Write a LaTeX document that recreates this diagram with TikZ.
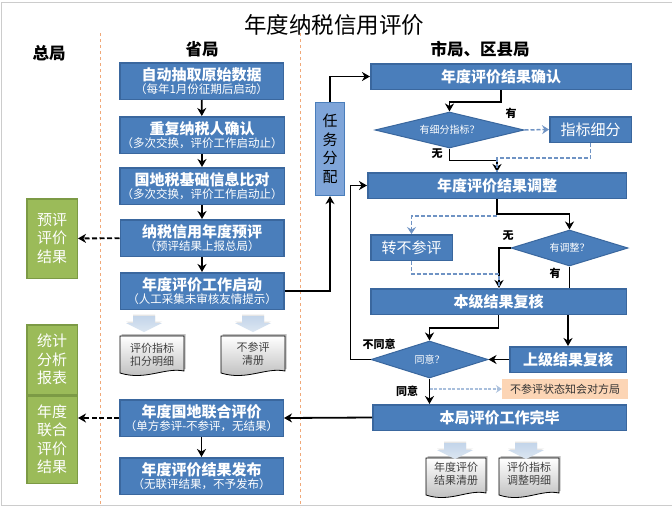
\documentclass[tikz,border=0pt]{standalone}
\usepackage{amsmath,amssymb,fontspec}
\setmainfont{Noto Sans CJK SC}
\usepackage{tikz}
\usetikzlibrary{arrows.meta,shapes.geometric,positioning}
\definecolor{boxblue}{HTML}{4A7EBB}
\definecolor{boxedge}{HTML}{3A679E}
\definecolor{taskblue}{HTML}{7FA5D9}
\definecolor{leafgreen}{HTML}{9BBB59}
\definecolor{leafedge}{HTML}{7C9A45}
\definecolor{dashblue}{HTML}{6F93C4}
\definecolor{pale}{HTML}{A9BFDC}
\definecolor{noteorange}{HTML}{FCD5B5}
\definecolor{lane}{HTML}{F0A878}
\definecolor{blocktop}{HTML}{DCE6F2}
\definecolor{blockend}{HTML}{C3D5EA}
\tikzset{
  flowbox/.style={draw=boxedge,line width=1.5pt,fill=boxblue,text=white,align=center,inner sep=0pt,minimum width=#1},
  stepbox/.style={flowbox=163.5pt,minimum height=36.5pt},
  widebox/.style={flowbox=#1,minimum height=25.5pt,font=\fontsize{15}{15}\selectfont\bfseries},
  sidebox/.style={flowbox=#1,minimum height=25.5pt,font=\fontsize{15}{15}\selectfont},
  greenbox/.style={draw=leafedge,line width=1.5pt,fill=leafgreen,text=white,align=center,inner sep=0pt,minimum width=50.5pt,font=\fontsize{15}{18.5}\selectfont},
  query/.style={diamond,aspect=3.3,draw=boxedge,line width=1pt,fill=boxblue,text=white,inner sep=0pt,font=\fontsize{10}{11}\selectfont},
  head/.style={font=\fontsize{16.5}{16.5}\selectfont\bfseries},
  solid line/.style={line width=1.8pt,-{Stealth[inset=2.5pt,length=8pt,width=9pt]}},
  plain line/.style={line width=1.8pt},
  dash line/.style={line width=1.8pt,dash pattern=on 5pt off 2.5pt,-{Stealth[inset=2.5pt,length=8pt,width=9pt]}},
  blue line/.style={line width=1.5pt,draw=dashblue,dash pattern=on 4pt off 2pt,-{Stealth[inset=2.5pt,length=7pt,width=9pt]}},
  blue end/.style={line width=1.5pt,draw=dashblue,dash pattern=on 4pt off 2pt},
  tag/.style={font=\fontsize{11}{11}\selectfont\bfseries,inner sep=0pt},
  doctext/.style={align=center,inner sep=0pt,text=black!75,font=\fontsize{11}{13}\selectfont},
  docpage/.pic={
    \path[fill=black!25,shift={(1.5pt,2pt)}] (0,0) -- (#1,0) -- (#1,35) .. controls (#1*.7,31) and (#1*.4,45) .. (0,37) -- cycle;
    \path[draw=black,line width=.8pt,top color=white,bottom color=black!28] (0,0) -- (#1,0) -- (#1,35) .. controls (#1*.7,31) and (#1*.4,45) .. (0,37) -- cycle;
  },
  downblock/.pic={
    \path[fill=black!10,shift={(0,1.5pt)}] (-11,0) -- (11,0) -- (11,7) -- (18,7) -- (0,16) -- (-18,7) -- (-11,7) -- cycle;
    \path[top color=blockend,bottom color=blocktop] (-11,0) -- (11,0) -- (11,7) -- (18,7) -- (0,16) -- (-18,7) -- (-11,7) -- cycle;
  }
}
\newcommand{\stepname}[2]{{\fontsize{15}{17}\selectfont\bfseries #1}\\[1.5pt]{\fontsize{11.5}{12}\selectfont #2}}
\begin{document}
\begin{tikzpicture}[x=1pt,y=-1pt,on grid,node distance=54pt]
  \useasboundingbox (0,0) rectangle (672,507);
  \fill[white] (0,0) rectangle (672,507);
  \draw[black!20,line width=1pt] (672,2.5) -- (1.5,2.5) -- (1.5,505.5) -- (672,505.5);
  \draw[lane,line width=.8pt,dashed] (100,33) -- (100,507);
  \draw[lane,line width=.8pt,dashed] (300,33) -- (300,507);

  \node[font=\fontsize{22.5}{22.5}\selectfont] (title) at (334,25) {年度纳税信用评价};
  \node[head] (zongju) at (49,53) {总局};
  \node[head] (shengju) at (202,49) {省局};
  \node[head] (shiju) at (480,49) {市局、区县局};

  \node[stepbox] (p_1) at (201.5,81) {\stepname{自动抽取原始数据}{（每年1月份征期后启动）}};
  \node[stepbox,minimum width=164.5pt] (p_2) [below=54pt of p_1,xshift=.5pt] {\stepname{重复纳税人确认}{（多次交换，评价工作启动止）}};
  \node[stepbox,minimum width=164.5pt] (p_3) [below=51pt of p_2] {\stepname{国地税基础信息比对}{（多次交换，评价工作启动止）}};
  \node[stepbox] (p_4) [below=52pt of p_3] {\stepname{纳税信用年度预评}{（预评结果上报总局）}};
  \node[stepbox] (p_5) [below=53pt of p_4] {\stepname{年度评价工作启动}{（人工采集未审核友情提示）}};
  \node[stepbox] (p_6) at (201.5,418) {\stepname{年度国地联合评价}{（单方参评-不参评，无结果）}};
  \node[stepbox] (p_7) [below=58pt of p_6] {\stepname{年度评价结果发布}{（无联评结果，不予发布）}};

  \node[greenbox,minimum height=79.5pt] (g_1) at (52,238.5) {预评\\评价\\结果};
  \node[greenbox,minimum height=69.5pt] (g_2) at (52,359.5) {统计\\分析\\报表};
  \node[greenbox,minimum height=87.5pt] (g_3) at (52,439.5) {年度\\联合\\评价\\结果};

  \node[draw=boxblue,line width=1.2pt,fill=taskblue,align=center,inner sep=0pt,minimum width=29pt,minimum height=93pt,font=\fontsize{15}{18.5}\selectfont] (task) at (330,149) {任\\务\\分\\配};

  \node[widebox=260.5pt] (r_1) at (501,76.5) {年度评价结果确认};
  \node[query,minimum width=149pt,minimum height=36pt] (q_1) at (449.5,130) {有细分指标？};
  \node[sidebox=81.5pt] (split) at (590.5,129.5) {指标细分};
  \node[widebox=258.5pt] (r_2) at (497,185.5) {年度评价结果调整};
  \node[query,minimum width=117pt,minimum height=36pt] (q_2) at (569.5,248) {有调整？};
  \node[sidebox=81.5pt] (skip) at (411.5,247.5) {转不参评};
  \node[widebox=255.5pt] (r_3) at (498.5,301.5) {本级结果复核};
  \node[query,minimum width=117pt,minimum height=37pt] (q_3) at (429.5,359.5) {同意？};
  \node[sidebox=116.5pt,font=\fontsize{15}{15}\selectfont\bfseries] (upper) at (568,359.5) {上级结果复核};
  \node[fill=noteorange,minimum width=126pt,minimum height=20pt,inner sep=0pt,text=black!80,font=\fontsize{11}{11}\selectfont] (note) at (565,389) {不参评状态知会对方局};
  \node[widebox=253.5pt] (r_4) at (499.5,417.5) {本局评价工作完毕};

  \path pic at (120,336) {docpage=64} pic at (221,336) {docpage=64};
  \path pic at (426,458) {docpage=60} pic at (499,458) {docpage=60};
  \path pic at (144,316) {downblock} pic at (253,316) {downblock} pic at (455,443) {downblock} pic at (526,443) {downblock};
  \node[doctext] (d_1) at (152,355) {评价指标\\扣分明细};
  \node[doctext] (d_2) at (253,354) {不参评\\清册};
  \node[doctext] (d_3) at (456,474) {年度评价\\结果清册};
  \node[doctext] (d_4) at (529,474) {评价指标\\调整明细};

  \node[tag] (t_1) at (511,113) {有};
  \node[tag] (t_2) at (437,154) {无};
  \node[tag] (t_3) at (508,236) {无};
  \node[tag] (t_4) at (555,273) {有};
  \node[tag] (t_5) at (379,344) {不同意};
  \node[tag] (t_6) at (407,391) {同意};

  \draw[solid line] (p_1) -- (p_2);
  \draw[solid line] (p_2) -- (p_3);
  \draw[solid line] (p_3) -- (p_4);
  \draw[solid line] (p_4) -- (p_5);
  \draw[solid line] (p_6) -- (p_7);
  \draw[dash line] (p_4) -- (g_1);
  \draw[dash line] (p_6.west) -- (p_6.west -| g_3.east);
  \draw[solid line] (p_5.east) -| (task.south);
  \draw[solid line] (task.north) |- (r_1.west);
  \draw[solid line] (r_4.west) -- (p_6.east);
  \draw[solid line] (r_1.south) -- ++(0,12) -| (q_1.north);
  \draw[blue line] (q_1.east) -- (split.west);
  \draw[solid line] (q_1.south) -- ++(0,12) -| (r_2.north);
  \draw[blue end] (split.south) -- ++(0,15) -| (r_2.north);
  \draw[solid line] (r_2.south) -- ++(0,15) -| (q_2.north);
  \draw[blue line] (r_2.south) ++(0,17) -| (skip.north);
  \coordinate (in_3) at (499,288);
  \draw[solid line] (q_2.west) -| (in_3);
  \draw[blue end] (skip.south) -- ++(0,13) -| (in_3);
  \draw[plain line] (q_2.south) -- (q_2.south |- r_3.north);
  \draw[solid line] (r_3.south -| upper.north) -- (upper.north);
  \draw[solid line] (r_3.south) -- ++(0,13) -| (q_3.north);
  \draw[solid line] (upper.west) -- (q_3.east);
  \draw[solid line] (q_3.west) -- ++(-20,0) |- (r_2.west);
  \draw[solid line] (q_3.south) -- (q_3.south |- r_4.north);
  \draw[line width=1.3pt,draw=pale,dash pattern=on 3pt off 1.5pt,-{Stealth[inset=2.5pt,length=6pt,width=8pt]}] (q_3.south |- note.west) -- (note.west);
\end{tikzpicture}
\end{document}
